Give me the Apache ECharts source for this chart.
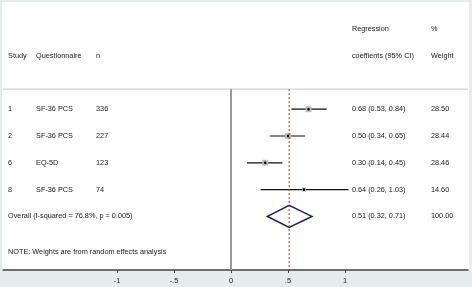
<!DOCTYPE html>
<html>
<head>
<meta charset="utf-8">
<script src="https://cdn.jsdelivr.net/npm/echarts@6/dist/echarts.min.js"></script>
<style>
  html, body { margin: 0; padding: 0; background: #e4ecee; }
  #forest { width: 472px; height: 287px; }
</style>
</head>
<body>
<div id="forest"></div>
<script>
// study table
const studies = ['1', '2', '6', '8']
const questionnaires = ['SF-36 PCS', 'SF-36 PCS', 'EQ-5D', 'SF-36 PCS']
const sampleSizes = [336, 227, 123, 74]
const estimates = [0.68, 0.50, 0.30, 0.64]
const lowerCI = [0.53, 0.34, 0.14, 0.26]
const upperCI = [0.84, 0.65, 0.45, 1.03]
const weights = ['28.50', '28.44', '28.46', '14.60']

// pooled result
const overallLabel = 'Overall (I-squared = 76.8%, p = 0.005)'
const overallEstimate = 0.51
const overallLower = 0.32
const overallUpper = 0.71
const overallWeight = '100.00'

const noteText = 'NOTE: Weights are from random effects analysis'
const xTicks = [-1, -0.5, 0, 0.5, 1]
const xTickLabels = ['-1', '-.5', '0', '.5', '1']

// layout (x in data units, y in rows)
const X_MIN = -2
const X_MAX = 2.079
const col = { study: -1.956, quest: -1.71, n: -1.184, ci: 1.061, wt: 1.754 }
const ruleRow = 0.25
const FONT = '7.3px "Liberation Sans", Arial, sans-serif'

const fmt = v => v.toFixed(2)

const texts = []
texts.push([col.ci, -2, 'Regression'])
texts.push([col.wt, -2, '%'])
texts.push([col.study, -1, 'Study'])
texts.push([col.quest, -1, 'Questionnaire'])
texts.push([col.n, -1, 'n'])
texts.push([col.ci, -1, 'coeffients (95% CI)'])
texts.push([col.wt, -1, 'Weight'])
studies.forEach((s, i) => {
  const r = i + 1
  texts.push([col.study, r, s])
  texts.push([col.quest, r, questionnaires[i]])
  texts.push([col.n, r, String(sampleSizes[i])])
  texts.push([col.ci, r, `${fmt(estimates[i])} (${fmt(lowerCI[i])}, ${fmt(upperCI[i])})`])
  texts.push([col.wt, r, weights[i]])
})
const overallRow = studies.length + 1
texts.push([col.study, overallRow, overallLabel])
texts.push([col.ci, overallRow, `${fmt(overallEstimate)} (${fmt(overallLower)}, ${fmt(overallUpper)})`])
texts.push([col.wt, overallRow, overallWeight])
texts.push([col.study, 6.33, noteText])

const ciData = estimates.map((e, i) => [e, i + 1, lowerCI[i], upperCI[i], parseFloat(weights[i])])

const chart = echarts.init(document.getElementById('forest'))

chart.setOption({
  backgroundColor: '#e4ecee',
  animation: false,
  graphic: [{
    type: 'rect',
    z: -10,
    shape: { x: 2, y: 2, width: 467, height: 268 },
    style: { fill: '#ffffff' }
  }],
  grid: { left: 3, right: 4, top: 2, bottom: 17 },
  xAxis: {
    type: 'value',
    min: X_MIN,
    max: X_MAX,
    splitLine: { show: false },
    axisLine: { show: true, onZero: false, lineStyle: { color: '#444', width: 1.5 } },
    axisTick: { show: true, customValues: xTicks, length: 3, lineStyle: { color: '#444' } },
    axisLabel: {
      customValues: xTicks,
      margin: 7,
      fontSize: 7.5,
      fontFamily: '"Liberation Sans", Arial',
      color: '#222',
      formatter: v => xTickLabels[xTicks.indexOf(v)]
    }
  },
  yAxis: {
    type: 'value',
    inverse: true,
    min: -3,
    max: 7,
    show: false
  },
  series: [
    {
      type: 'line',
      symbol: 'none',
      data: [[X_MIN, ruleRow], [X_MAX, ruleRow]],
      lineStyle: { color: '#c8c8c8', width: 1 }
    },
    {
      type: 'line',
      symbol: 'none',
      data: [[0, ruleRow], [0, 7]],
      lineStyle: { color: '#9a9a9a', width: 2 }
    },
    {
      type: 'line',
      symbol: 'none',
      data: [[overallEstimate, ruleRow], [overallEstimate, 7]],
      lineStyle: { color: '#a83232', width: 1, type: [2, 2] }
    },
    {
      type: 'custom',
      data: ciData,
      renderItem: (params, api) => {
        const r = api.value(1)
        const lo = api.coord([api.value(2), r])
        const hi = api.coord([api.value(3), r])
        const c = api.coord([api.value(0), r])
        const s = 1.12 * Math.sqrt(api.value(4))
        return {
          type: 'group',
          children: [
            { type: 'line', shape: { x1: lo[0], y1: lo[1], x2: hi[0], y2: hi[1] }, style: { stroke: '#111', lineWidth: 1.2 } },
            { type: 'rect', shape: { x: c[0] - s / 2, y: c[1] - s / 2, width: s, height: s }, style: { fill: '#bdbdbd' } },
            { type: 'circle', shape: { cx: c[0], cy: c[1], r: 1.3 }, style: { fill: '#000' } }
          ]
        }
      }
    },
    {
      type: 'custom',
      data: [[overallEstimate, overallRow, overallLower, overallUpper]],
      renderItem: (params, api) => {
        const r = api.value(1)
        const pts = [
          api.coord([api.value(2), r]),
          api.coord([api.value(0), r - 0.41]),
          api.coord([api.value(3), r]),
          api.coord([api.value(0), r + 0.41])
        ]
        return {
          type: 'polygon',
          shape: { points: pts },
          style: { fill: 'none', stroke: '#1c1c6e', lineWidth: 1.5 }
        }
      }
    },
    {
      type: 'custom',
      data: texts.map(t => [t[0], t[1]]),
      renderItem: (params, api) => {
        const p = api.coord([api.value(0), api.value(1)])
        return {
          type: 'text',
          x: p[0],
          y: p[1],
          style: {
            text: texts[params.dataIndex][2],
            font: FONT,
            fill: '#222',
            align: 'left',
            verticalAlign: 'middle'
          }
        }
      }
    }
  ]
})
</script>
</body>
</html>
